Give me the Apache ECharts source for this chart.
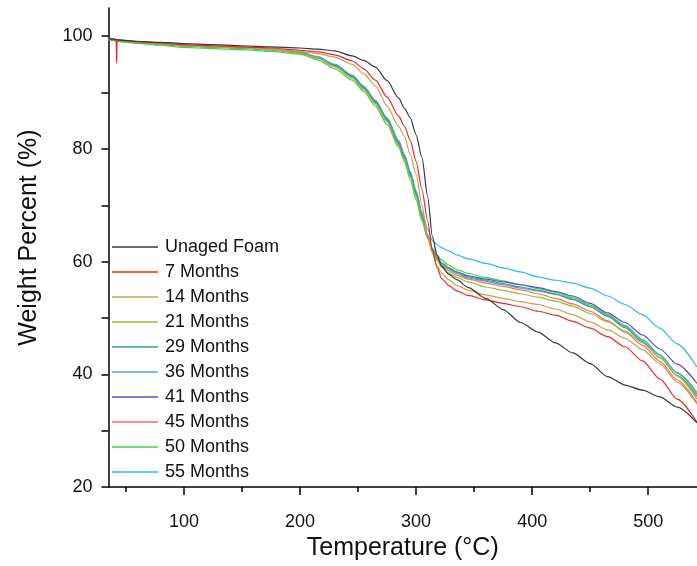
<!DOCTYPE html>
<html>
<head>
<meta charset="utf-8">
<script src="https://cdn.jsdelivr.net/npm/echarts@6/dist/echarts.min.js"></script>
<style>
html,body{margin:0;padding:0;background:#fff;}
#chart{width:697px;height:566px;}
</style>
</head>
<body>
<div id="chart"></div>
<script>
const temps = [35, 40, 41.6, 42, 42.4, 45, 60, 80, 100, 125, 150, 175, 200, 215, 230, 245, 255, 265, 275, 285, 290, 295, 300, 305, 310, 314, 318, 322, 328, 335, 345, 360, 375, 390, 405, 420, 435, 450, 465, 480, 495, 510, 525, 542];

const seriesNames = ["Unaged Foam", "7 Months", "14 Months", "21 Months", "29 Months", "36 Months", "41 Months", "45 Months", "50 Months", "55 Months"];

const unaged = [99.6, 99.5, 99.4, 99.4, 99.4, 99.3, 99.1, 98.9, 98.7, 98.5, 98.3, 98.1, 97.9, 97.7, 97.4, 96.5, 95.7, 94.5, 92.1, 89.0, 87.2, 85.5, 82.5, 78.5, 71.5, 64.5, 61.2, 59.2, 57.8, 56.8, 55.4, 53.5, 51.5, 49.2, 47.5, 45.6, 43.8, 41.9, 39.6, 38.1, 37.2, 36.0, 34.2, 31.4];
const m7 = [99.5, 99.4, 99.4, 95.2, 99.3, 99.3, 99.0, 98.8, 98.5, 98.3, 98.1, 97.9, 97.5, 97.2, 96.7, 95.6, 94.2, 92.2, 89.2, 85.8, 84.0, 81.5, 77.8, 72.8, 67.2, 62.0, 59.0, 57.0, 55.8, 54.8, 54.0, 53.2, 52.6, 52.0, 51.2, 50.5, 49.4, 48.2, 46.7, 44.9, 42.4, 39.2, 35.6, 31.5];
const m14 = [99.5, 99.4, 99.4, 99.4, 99.4, 99.3, 99.0, 98.7, 98.4, 98.2, 98.0, 97.7, 97.3, 96.9, 96.3, 95.0, 93.3, 91.2, 87.6, 84.0, 82.2, 79.0, 75.5, 70.0, 64.5, 61.5, 59.3, 58.0, 56.8, 55.8, 54.9, 54.1, 53.5, 52.9, 52.4, 51.6, 50.6, 49.3, 47.9, 46.4, 44.4, 41.9, 38.6, 34.7];
const m21 = [99.5, 99.4, 99.3, 99.3, 99.3, 99.2, 98.9, 98.6, 98.3, 98.1, 97.9, 97.6, 97.0, 96.2, 94.6, 92.6, 90.6, 88.0, 84.8, 80.5, 78.0, 75.0, 71.5, 67.5, 64.0, 61.8, 60.2, 59.0, 58.0, 57.2, 56.4, 55.5, 54.9, 54.3, 53.7, 53.0, 52.1, 50.8, 49.3, 47.7, 45.6, 43.0, 39.7, 35.6];
const m29 = [99.5, 99.4, 99.3, 99.3, 99.3, 99.2, 98.9, 98.6, 98.3, 98.1, 97.9, 97.6, 97.1, 96.2, 94.8, 92.8, 90.8, 88.3, 85.1, 81.0, 78.5, 75.5, 72.0, 68.0, 64.4, 62.2, 60.8, 59.8, 58.9, 58.1, 57.3, 56.7, 56.1, 55.5, 54.9, 54.3, 53.3, 52.0, 50.3, 48.3, 45.8, 43.0, 39.8, 36.1];
const m36 = [99.6, 99.5, 99.4, 99.4, 99.4, 99.2, 98.9, 98.6, 98.3, 98.1, 97.9, 97.7, 97.2, 96.4, 95.0, 93.1, 91.1, 88.6, 85.5, 81.5, 79.0, 76.0, 72.6, 68.6, 64.8, 62.3, 60.7, 59.6, 58.7, 57.9, 57.1, 56.5, 55.9, 55.3, 54.8, 54.2, 53.3, 52.0, 50.4, 48.5, 46.1, 43.4, 40.2, 36.5];
const m41 = [99.5, 99.4, 99.3, 99.3, 99.3, 99.2, 98.9, 98.6, 98.3, 98.1, 97.9, 97.6, 97.1, 96.3, 94.9, 92.9, 91.0, 88.4, 85.2, 81.1, 78.6, 75.6, 72.2, 68.3, 64.6, 62.2, 60.8, 59.8, 58.9, 58.2, 57.5, 56.9, 56.4, 55.9, 55.4, 54.7, 53.9, 52.6, 50.9, 49.2, 47.0, 44.5, 41.8, 38.4];
const m45 = [99.5, 99.4, 99.3, 99.3, 99.3, 99.2, 98.9, 98.6, 98.3, 98.1, 97.9, 97.6, 97.0, 96.1, 94.6, 92.6, 90.6, 88.1, 84.9, 80.8, 78.3, 75.3, 71.8, 67.8, 64.2, 62.0, 60.4, 59.4, 58.4, 57.6, 56.9, 56.2, 55.6, 55.0, 54.3, 53.5, 52.5, 51.2, 49.5, 47.5, 45.2, 42.3, 39.0, 35.0];
const m50 = [99.3, 99.2, 99.1, 99.1, 99.1, 99.0, 98.7, 98.4, 98.0, 97.8, 97.6, 97.3, 96.8, 95.8, 94.2, 92.2, 90.2, 87.6, 84.3, 80.3, 77.7, 74.5, 71.0, 67.2, 64.2, 62.4, 61.2, 60.3, 59.4, 58.6, 57.9, 57.2, 56.6, 55.9, 55.2, 54.6, 53.6, 52.3, 50.6, 48.7, 46.2, 43.5, 40.3, 36.8];
const m55 = [99.6, 99.5, 99.4, 99.4, 99.4, 99.3, 98.9, 98.6, 98.3, 98.1, 97.9, 97.7, 97.1, 96.3, 94.9, 93.0, 91.0, 88.5, 85.4, 81.2, 78.8, 75.8, 72.5, 68.8, 65.8, 63.8, 63.0, 62.5, 61.9, 61.2, 60.5, 59.7, 58.9, 58.2, 57.3, 56.7, 56.2, 55.3, 53.9, 52.4, 50.6, 48.2, 45.4, 41.3];

const allValues = [unaged, m7, m14, m21, m29, m36, m41, m45, m50, m55];
const colors = ['#3a3a3a', '#e8282e', '#c8a050', '#99bb33', '#33a585', '#55a5dd', '#6a48c0', '#ff6a6a', '#44d044', '#33b8f5'];

const xLabelValues = [100, 200, 300, 400, 500];
const xMinorTicks = [50, 150, 250, 350, 450];
const yLabelValues = [20, 40, 60, 80, 100];
const yTickValues = [20, 30, 40, 50, 60, 70, 80, 90, 100];

const FONT = "'Liberation Sans', Arial, sans-serif";

const chart = echarts.init(document.getElementById('chart'), null, {renderer: 'canvas'});

const series = seriesNames.map((name, k) => ({
  name: name,
  type: 'line',
  xAxisIndex: 0,
  yAxisIndex: 0,
  data: temps.map((t, i) => [t, allValues[k][i]]),
  symbol: 'none',
  smooth: 0.25,
  smoothMonotone: 'x',
  lineStyle: {color: colors[k], width: 1.2},
  itemStyle: {color: colors[k]},
  emphasis: {disabled: true},
  z: 10 - k
}));

chart.setOption({
  animation: false,
  backgroundColor: '#ffffff',
  textStyle: {fontFamily: FONT},
  grid: {left: 108.5, right: 0, top: 8, bottom: 78, containLabel: false},
  legend: {
    orient: 'vertical',
    left: 107,
    top: 232,
    icon: 'rect',
    itemWidth: 46,
    itemHeight: 1.5,
    itemGap: 5,
    data: seriesNames,
    textStyle: {fontFamily: FONT, fontSize: 18, color: '#111', lineHeight: 20, padding: [0, 0, 0, 2]}
  },
  xAxis: [{
    type: 'value',
    min: 35,
    max: 542,
    name: 'Temperature (°C)',
    nameLocation: 'middle',
    nameGap: 47,
    nameTextStyle: {fontFamily: FONT, fontSize: 25, color: '#111'},
    axisLine: {lineStyle: {color: '#000', width: 1.5}},
    axisTick: {show: true, length: 8, lineStyle: {color: '#000', width: 1.5}, customValues: xLabelValues},
    axisLabel: {fontFamily: FONT, fontSize: 18, color: '#111', margin: 26, customValues: xLabelValues},
    splitLine: {show: false}
  }, {
    type: 'value',
    min: 35,
    max: 542,
    position: 'bottom',
    axisLine: {show: false},
    axisTick: {show: true, length: 5, lineStyle: {color: '#000', width: 1.5}, customValues: xMinorTicks},
    axisLabel: {show: false},
    splitLine: {show: false}
  }],
  yAxis: [{
    type: 'value',
    min: 20,
    max: 105,
    name: 'Weight Percent (%)',
    nameLocation: 'middle',
    nameGap: 67,
    nameTextStyle: {fontFamily: FONT, fontSize: 25, color: '#111', padding: [0, 0, 0, 20]},
    axisLine: {show: true, lineStyle: {color: '#000', width: 1.5}},
    axisTick: {show: true, length: 7, lineStyle: {color: '#000', width: 1.5}, customValues: yTickValues},
    axisLabel: {fontFamily: FONT, fontSize: 18, color: '#111', margin: 16, customValues: yLabelValues},
    splitLine: {show: false}
  }],
  series: series
});
</script>
</body>
</html>
